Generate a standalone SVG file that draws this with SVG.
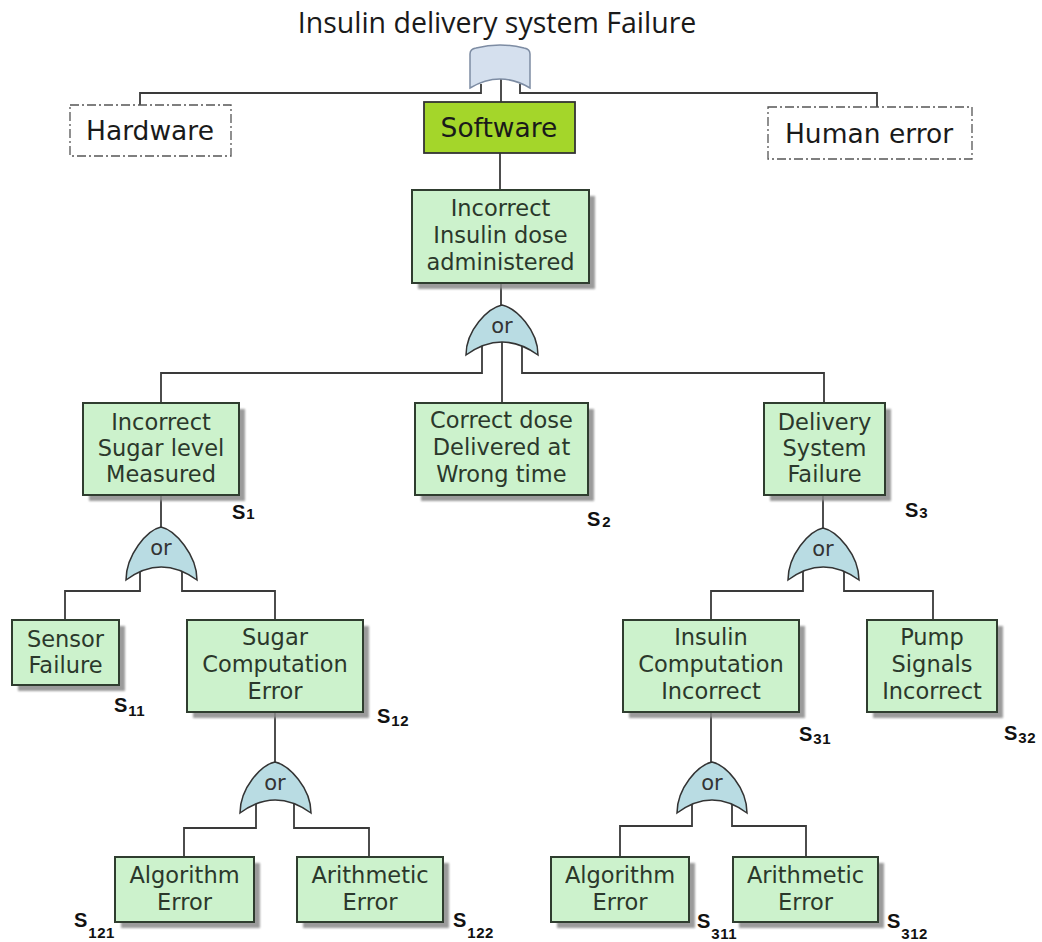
<svg xmlns="http://www.w3.org/2000/svg" width="1042" height="942" viewBox="0 0 1042 942">
<style>
.box{fill:#ccf2cc;stroke:#2f3d2f;stroke-width:2}
.shadow{fill:#8a8a8a;opacity:0.85}
.t{font-family:"DejaVu Sans",Verdana,sans-serif;font-size:22.5px;fill:#2b382b;text-anchor:middle}
.big{font-family:"DejaVu Sans",Verdana,sans-serif;font-size:26.5px;fill:#1a1a1a;text-anchor:middle}
.dash{fill:#ffffff;stroke:#555;stroke-width:1.3;stroke-dasharray:9,3,2,3}
.gate{fill:#b9dce3;stroke:#333;stroke-width:1.5}
.gt{font-family:"DejaVu Sans",Verdana,sans-serif;font-size:21px;fill:#333;text-anchor:middle}
.c{fill:none;stroke:#3a3a3a;stroke-width:1.8}
.s{font-family:"Liberation Sans",Arial,sans-serif;font-weight:bold;font-size:20px;fill:#111}
.sub{font-size:15px;letter-spacing:0.5px}
</style>
<defs>
<filter id="blur" x="-10%" y="-10%" width="120%" height="120%"><feGaussianBlur stdDeviation="1.2"/></filter>
</defs>
<rect width="1042" height="942" fill="#ffffff"/>

<text x="497" y="33" font-family="'Open Sans',sans-serif" font-size="28.5" fill="#1a1a1a" text-anchor="middle">Insulin delivery system Failure</text>

<g id="connectors">
<path class="c" d="M481,84 V93 H140 V105"/>
<path class="c" d="M520,84 V93 H877 V107"/>
<path class="c" d="M501,79 V102"/>
<path class="c" d="M500,153 V190"/>
<path class="c" d="M501,283 V305"/>
<path class="c" d="M482,346 V373 H161 V403"/>
<path class="c" d="M522,346 V373 H824 V403"/>
<path class="c" d="M502,342 V403"/>
<path class="c" d="M161,495 V527"/>
<path class="c" d="M140,571 V591 H65 V620"/>
<path class="c" d="M182,571 V591 H275 V620"/>
<path class="c" d="M275,712 V762"/>
<path class="c" d="M256,804 V828 H184 V857"/>
<path class="c" d="M294,804 V828 H369 V857"/>
<path class="c" d="M823,495 V528"/>
<path class="c" d="M803,571 V591 H711 V620"/>
<path class="c" d="M844,571 V591 H933 V620"/>
<path class="c" d="M711,712 V762"/>
<path class="c" d="M692,804 V826 H620 V857"/>
<path class="c" d="M732,804 V826 H806 V857"/>
</g>

<g id="gate-top">
<path d="M470,54 Q470,49 476,48 Q500,42 524,48 Q530,49 530,54 L530,88 Q500,70 470,88 Z" fill="#d5e0ee" stroke="#7d8ca3" stroke-width="1.5"/>
</g>

<g id="hardware">
<rect class="dash" x="70" y="105" width="161" height="51"/>
<text class="big" x="150" y="140">Hardware</text>
</g>
<g id="software">
<rect x="424" y="102" width="151" height="51" fill="#a4d62a" stroke="#333" stroke-width="1.8"/>
<text class="big" x="499" y="137">Software</text>
</g>
<g id="human-error">
<rect class="dash" x="768" y="107" width="204" height="52"/>
<text class="big" x="869" y="143">Human error</text>
</g>

<g id="incorrect-insulin">
<rect class="shadow" x="418" y="196" width="177" height="93" filter="url(#blur)"/>
<rect class="box" x="412" y="190" width="177" height="93"/>
<text class="t" x="500.5" y="216">Incorrect</text>
<text class="t" x="500.5" y="243">Insulin dose</text>
<text class="t" x="500.5" y="270">administered</text>
</g>

<g id="gate-1">
<path class="gate" d="M466,355 C466,330 488,308 502,305 C516,308 538,330 538,355 Q502,329 466,355 Z"/>
<text class="gt" x="502" y="333">or</text>
</g>

<g id="sugar-level">
<rect class="shadow" x="89" y="409" width="156" height="92" filter="url(#blur)"/>
<rect class="box" x="83" y="403" width="156" height="92"/>
<text class="t" x="161" y="430">Incorrect</text>
<text class="t" x="161" y="456">Sugar level</text>
<text class="t" x="161" y="482">Measured</text>
<text class="s" x="232" y="519">S<tspan class="sub" dx="1">1</tspan></text>
</g>

<g id="correct-dose">
<rect class="shadow" x="421" y="409" width="173" height="92" filter="url(#blur)"/>
<rect class="box" x="415" y="403" width="173" height="92"/>
<text class="t" x="501.5" y="428">Correct dose</text>
<text class="t" x="501.5" y="455">Delivered at</text>
<text class="t" x="501.5" y="482">Wrong time</text>
<text class="s" x="587" y="526">S<tspan class="sub" dx="2" dy="1">2</tspan></text>
</g>

<g id="delivery-failure">
<rect class="shadow" x="770" y="409" width="121" height="92" filter="url(#blur)"/>
<rect class="box" x="764" y="403" width="121" height="92"/>
<text class="t" x="824.5" y="430">Delivery</text>
<text class="t" x="824.5" y="456">System</text>
<text class="t" x="824.5" y="482">Failure</text>
<text class="s" x="905" y="517">S<tspan class="sub" dx="1" dy="1">3</tspan></text>
</g>

<g id="gate-2">
<path class="gate" d="M126,580 C126,555 147,530 161,527 C175,530 197,555 197,580 Q161,554 126,580 Z"/>
<text class="gt" x="161" y="555">or</text>
</g>

<g id="gate-4">
<path class="gate" d="M788,580 C788,555 809,531 823,528 C837,531 859,555 859,580 Q823,554 788,580 Z"/>
<text class="gt" x="823" y="556">or</text>
</g>

<g id="sensor-failure">
<rect class="shadow" x="18" y="626" width="107" height="65" filter="url(#blur)"/>
<rect class="box" x="12" y="620" width="107" height="65"/>
<text class="t" x="65.5" y="647">Sensor</text>
<text class="t" x="65.5" y="673">Failure</text>
<text class="s" x="114" y="712">S<tspan class="sub" dx="1" dy="4">11</tspan></text>
</g>

<g id="sugar-computation">
<rect class="shadow" x="193" y="626" width="176" height="92" filter="url(#blur)"/>
<rect class="box" x="187" y="620" width="176" height="92"/>
<text class="t" x="275" y="645">Sugar</text>
<text class="t" x="275" y="672">Computation</text>
<text class="t" x="275" y="699">Error</text>
<text class="s" x="377" y="723">S<tspan class="sub" dx="1" dy="3">12</tspan></text>
</g>

<g id="insulin-computation">
<rect class="shadow" x="629" y="626" width="176" height="92" filter="url(#blur)"/>
<rect class="box" x="623" y="620" width="176" height="92"/>
<text class="t" x="711" y="645">Insulin</text>
<text class="t" x="711" y="672">Computation</text>
<text class="t" x="711" y="699">Incorrect</text>
<text class="s" x="799" y="741">S<tspan class="sub" dx="1" dy="3">31</tspan></text>
</g>

<g id="pump-signals">
<rect class="shadow" x="873" y="626" width="130" height="92" filter="url(#blur)"/>
<rect class="box" x="867" y="620" width="130" height="92"/>
<text class="t" x="932" y="645">Pump</text>
<text class="t" x="932" y="672">Signals</text>
<text class="t" x="932" y="699">Incorrect</text>
<text class="s" x="1004" y="740">S<tspan class="sub" dx="1" dy="3">32</tspan></text>
</g>

<g id="gate-3">
<path class="gate" d="M240,813 C240,788 261,765 275,762 C289,765 311,788 311,813 Q275,787 240,813 Z"/>
<text class="gt" x="275" y="790">or</text>
</g>

<g id="gate-5">
<path class="gate" d="M677,813 C677,788 698,765 712,762 C726,765 747,788 747,813 Q712,787 677,813 Z"/>
<text class="gt" x="712" y="790">or</text>
</g>

<g id="algorithm-error-1">
<rect class="shadow" x="121" y="863" width="139" height="65" filter="url(#blur)"/>
<rect class="box" x="115" y="857" width="139" height="65"/>
<text class="t" x="184.5" y="883">Algorithm</text>
<text class="t" x="184.5" y="910">Error</text>
<text class="s" x="74" y="927">S<tspan class="sub" dx="1" dy="11">121</tspan></text>
</g>

<g id="arithmetic-error-1">
<rect class="shadow" x="303" y="863" width="146" height="65" filter="url(#blur)"/>
<rect class="box" x="297" y="857" width="146" height="65"/>
<text class="t" x="370" y="883">Arithmetic</text>
<text class="t" x="370" y="910">Error</text>
<text class="s" x="453" y="927">S<tspan class="sub" dx="1" dy="11">122</tspan></text>
</g>

<g id="algorithm-error-2">
<rect class="shadow" x="557" y="863" width="138" height="65" filter="url(#blur)"/>
<rect class="box" x="551" y="857" width="138" height="65"/>
<text class="t" x="620" y="883">Algorithm</text>
<text class="t" x="620" y="910">Error</text>
<text class="s" x="697" y="928">S<tspan class="sub" dx="1" dy="11">311</tspan></text>
</g>

<g id="arithmetic-error-2">
<rect class="shadow" x="739" y="863" width="145" height="65" filter="url(#blur)"/>
<rect class="box" x="733" y="857" width="145" height="65"/>
<text class="t" x="805.5" y="883">Arithmetic</text>
<text class="t" x="805.5" y="910">Error</text>
<text class="s" x="887" y="928">S<tspan class="sub" dx="1" dy="11">312</tspan></text>
</g>
</svg>
